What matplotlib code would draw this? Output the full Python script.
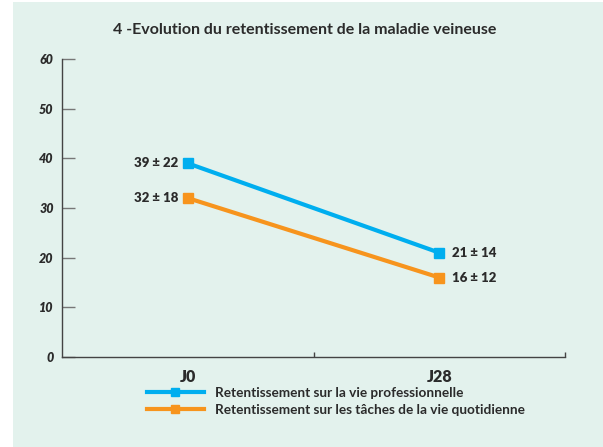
import matplotlib
matplotlib.use("Agg")
import matplotlib.pyplot as plt
from matplotlib.patches import Rectangle
from matplotlib.lines import Line2D

# data
days = ["J0", "J28"]
pro_mean = [39, 21]
pro_sd = [22, 14]
quot_mean = [32, 16]
quot_sd = [18, 12]
series_names = ["Retentissement sur la vie professionnelle",
                "Retentissement sur les tâches de la vie quotidienne"]
yticks = [0, 10, 20, 30, 40, 50, 60]

blue = "#00aeef"
orange = "#f7941d"
bg = "#e3f2ed"
dark = "#2b2b2b"

plt.rcParams['font.family'] = ['Lato', 'DejaVu Sans']

fig = plt.figure(figsize=(6.03, 4.47), dpi=100)
fig.patch.set_facecolor("white")
fig.patches.append(Rectangle((13 / 603, 0), 1 - 13 / 603, 1 - 2 / 447,
                             transform=fig.transFigure, facecolor=bg,
                             edgecolor="none", zorder=-10))

ax = fig.add_axes([62 / 603, 1 - 357 / 447, (565 - 62) / 603, (357 - 59) / 447])
ax.set_facecolor("none")
ax.set_zorder(5)

x = list(range(len(days)))
ax.plot(x, pro_mean, color=blue, lw=3, marker="s", ms=7, solid_capstyle="butt")
ax.plot(x, quot_mean, color=orange, lw=3, marker="s", ms=7, solid_capstyle="butt")

for i, (m, s) in enumerate(zip(pro_mean, pro_sd)):
    if i == 0:
        ax.annotate(f"{m} ± {s}", (i, m), xytext=(-6.5, 0), textcoords="offset points",
                    ha="right", va="center", fontsize=9.5, fontweight="heavy", color=dark)
    else:
        ax.annotate(f"{m} ± {s}", (i, m), xytext=(9, 0), textcoords="offset points",
                    ha="left", va="center", fontsize=9.5, fontweight="heavy", color=dark)
for i, (m, s) in enumerate(zip(quot_mean, quot_sd)):
    if i == 0:
        ax.annotate(f"{m} ± {s}", (i, m), xytext=(-6.5, 0), textcoords="offset points",
                    ha="right", va="center", fontsize=9.5, fontweight="heavy", color=dark)
    else:
        ax.annotate(f"{m} ± {s}", (i, m), xytext=(9, 0), textcoords="offset points",
                    ha="left", va="center", fontsize=9.5, fontweight="heavy", color=dark)

ax.set_xlim(-0.5, 1.5)
ax.set_ylim(0, 60)

for side in ["top", "right"]:
    ax.spines[side].set_visible(False)
for side in ["left", "bottom"]:
    ax.spines[side].set_color("#444444")
    ax.spines[side].set_linewidth(1.0)

ax.set_yticks(yticks)
ax.set_yticklabels([str(v) for v in yticks], fontsize=9, fontweight="heavy",
                   fontstyle="italic", color=dark)
ax.tick_params(axis="y", direction="in", length=9.5, width=1, color="#777777", pad=6)

ax.set_xticks([0.5, 1.5])
ax.set_xticklabels(["", ""])
ax.tick_params(axis="x", which="major", direction="in", length=3.5, width=1, color="#444444")
ax.set_xticks(x, minor=True)
ax.set_xticklabels(days, minor=True, fontsize=11.5, fontweight="heavy", color=dark)
ax.tick_params(axis="x", which="minor", length=0, pad=9)

fig.text(305 / 603, 1 - 30 / 447, "4 -Evolution du retentissement de la maladie veineuse",
         ha="center", va="center", fontsize=11.5, fontweight="bold", color=dark)

handles = [Line2D([], [], color=blue, lw=3, marker="s", ms=6),
           Line2D([], [], color=orange, lw=3, marker="s", ms=6)]
fig.legend(handles, series_names, loc="upper left",
           bbox_to_anchor=(140 / 603, 1 - 380 / 447), frameon=False,
           handlelength=4.2, handletextpad=0.8, labelspacing=0.38,
           prop={"family": ["Lato", "DejaVu Sans"], "weight": "bold", "size": 9.8},
           labelcolor=dark, borderpad=0)

fig.savefig("out.png", dpi=100, facecolor=fig.get_facecolor())
